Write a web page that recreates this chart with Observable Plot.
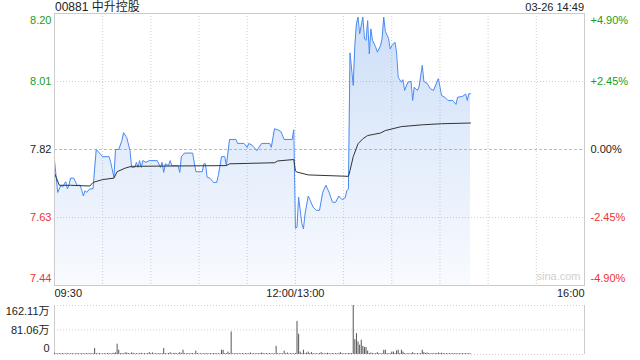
<!DOCTYPE html>
<html><head><meta charset="utf-8">
<script src="https://cdn.jsdelivr.net/npm/d3@7"></script>
<script src="https://cdn.jsdelivr.net/npm/@observablehq/plot@0.6"></script>
<style>
body{margin:0;background:#fff;}
#wrap{position:relative;width:640px;height:360px;overflow:hidden;font-family:"Liberation Sans",Arial,"Noto Sans CJK SC",sans-serif;}
#wrap svg{position:absolute;left:0;}
.t{position:absolute;color:#222;white-space:nowrap;}
</style></head><body>
<div id="wrap">
<div class="t" id="title" style="left:55px;top:0;font-size:12px;line-height:15px;"></div>
<div class="t" id="stamp" style="right:56px;top:0;font-size:11px;line-height:15px;"></div>
</div>
<script>
const stockTitle = "00881 中升控股";
const stamp = "03-26 14:49";
const prevClose = 7.82;
const yLevels = [8.20, 8.01, 7.82, 7.63, 7.44];
const yLabels = ["8.20", "8.01", "7.82", "7.63", "7.44"];
const pctLabels = ["+4.90%", "+2.45%", "0.00%", "-2.45%", "-4.90%"];
const levelColors = ["#1a9e1a", "#1a9e1a", "#222222", "#ee3333", "#ee3333"];
const xTickTimes = ["09:30", "12:00", "16:00"];
const xTickLabels = ["09:30", "12:00/13:00", "16:00"];
const volLevels = [162.11, 81.06, 0];
const volLabels = ["162.11万", "81.06万", "0"];

const priceTimes = ["09:30","09:32","09:34","09:35","09:37","09:38","09:39","09:40","09:42","09:44","09:46","09:47","09:48","09:49","09:50","09:52","09:54","09:55","09:56","09:58","10:00","10:04","10:05","10:07","10:08","10:10","10:12","10:13","10:15","10:17","10:18","10:20","10:21","10:22","10:23","10:24","10:25","10:27","10:29","10:34","10:36","10:37","10:38","10:39","10:41","10:42","10:43","10:47","10:48","10:49","10:51","10:56","10:58","11:02","11:03","11:04","11:05","11:07","11:09","11:11","11:12","11:14","11:16","11:17","11:19","11:23","11:24","11:28","11:30","11:31","11:33","11:36","11:39","11:44","11:45","11:47","11:49","11:51","11:53","11:58","11:59",
"13:00","13:01","13:02","13:04","13:05","13:06","13:08","13:09","13:11","13:13","13:15","13:17","13:19","13:21","13:23","13:25","13:27","13:29","13:31","13:32","13:33","13:34","13:36","13:37","13:38","13:39","13:40","13:42","13:43","13:44","13:45","13:46","13:47","13:48","13:50","13:51","13:53","13:54","13:55","13:56","13:58","13:59","14:00","14:02","14:03","14:04","14:06","14:07","14:08","14:10","14:12","14:13","14:14","14:16","14:17","14:19","14:20","14:22","14:24","14:26","14:29","14:30","14:31","14:33","14:35","14:38","14:40","14:41","14:44","14:46","14:47","14:48","14:49"];
const prices = [7.79,7.70,7.72,7.715,7.73,7.71,7.72,7.74,7.74,7.72,7.72,7.705,7.69,7.705,7.70,7.71,7.71,7.767,7.82,7.81,7.80,7.80,7.784,7.742,7.82,7.82,7.845,7.867,7.853,7.817,7.77,7.77,7.784,7.77,7.789,7.77,7.789,7.784,7.789,7.789,7.77,7.784,7.756,7.78,7.775,7.789,7.775,7.775,7.756,7.80,7.81,7.81,7.758,7.758,7.78,7.78,7.743,7.739,7.728,7.728,7.747,7.80,7.80,7.775,7.848,7.848,7.837,7.837,7.826,7.837,7.832,7.817,7.837,7.837,7.826,7.878,7.875,7.87,7.848,7.848,7.875,
7.60,7.603,7.687,7.613,7.598,7.64,7.69,7.68,7.659,7.65,7.65,7.70,7.72,7.70,7.673,7.672,7.69,7.68,7.685,7.705,7.71,8.09,7.999,8.11,8.171,8.19,8.143,8.19,8.129,8.125,8.18,8.087,8.157,8.125,8.106,8.092,8.11,8.13,8.19,8.15,8.13,8.101,8.11,8.12,8.09,8.022,8.008,8.015,7.985,8.008,8.01,7.957,7.994,7.985,7.995,8.055,8.01,8.005,7.99,7.985,8.018,7.995,7.971,7.966,7.957,7.957,7.946,7.966,7.968,7.975,7.957,7.976,7.976];

const avgTimes = ["09:30","09:33","09:40","09:52","09:54","10:00","10:07","10:09","10:14","10:18","11:17","11:19","11:47","11:49","11:59","13:00","13:01","13:08","13:33","13:34","13:36","13:39","13:42","13:45","13:53","13:56","14:06","14:19","14:31","14:49"];
const avgPrices = [7.754,7.72,7.72,7.718,7.728,7.736,7.74,7.758,7.768,7.773,7.775,7.78,7.783,7.788,7.792,7.76,7.757,7.749,7.745,7.761,7.80,7.836,7.85,7.859,7.866,7.873,7.884,7.889,7.892,7.894];

// volume per trading minute from 09:30 (万股)
const volumes = [
3,2,2,3,2,3,2,2,3,2,
2,3,2,2,3,2,2,3,2,2,
3,2,3,2,3,19.7,3,2,3,2,
2,3,2,3,3,2,3,4,5,34,
14,3,3,2,5,5,3,2,5,4,
2,3,2,3,4,2,3,2,3,6,
3,5,2,3,2,3,2,3,19.7,3,
2,3,6,2,3,4,2,3,6,3,
14,3,2,3,2,3,3,2,11,3,
2,3,2,3,2,3,2,3,2,3,
3,2,3,2,14,14,3,3,8,3,
74.5,3,2,3,2,3,2,3,2,3,
2,3,5,2,3,2,3,2,3,5,
3,2,3,2,3,2,3,2,27,3,
2,3,2,11,3,5,2,3,2,3,
3,109.5,67,8,3,14,3,5,8,3,
6,3,2,3,2,3,6,3,2,3,
4,3,2,3,2,3,2,3,6,3,
2,3,2,3,3,3,162.11,49,69,41.6,
30.7,47,27,23,23,11,3,5,3,2,
3,6,3,2,3,14,14,3,2,3,
8,8,3,12,14,3,14,8,3,2,
3,2,3,6,3,2,3,2,3,14,
6,3,5,3,2,3,2,3,3,5,
3,4,3,2,3,2,3,2,3,2,
3,2,3,2,3,2,3,2,3,2];

function toMin(t) {
  const [h, mm] = t.split(":").map(Number);
  const v = h * 60 + mm;
  return v <= 720 ? v - 570 : v - 780 + 150;
}
const priceData = priceTimes.map((t, i) => ({m: toMin(t), p: prices[i]}));
const avgData = avgTimes.map((t, i) => ({m: toMin(t), p: avgPrices[i]}));
const volData = volumes.map((v, i) => ({m: i, v}));
const levelRows = yLevels.map((v, i) => ({v, l: yLabels[i], pct: pctLabels[i], c: levelColors[i]}));
const xTicks = xTickTimes.map((t, i) => ({m: toMin(t), l: xTickLabels[i]}));
const volRows = volLevels.map((v, i) => ({v, l: volLabels[i]}));
const gridMins = d3.range(30, 330, 30);

document.getElementById("title").textContent = stockTitle;
document.getElementById("stamp").textContent = stamp;

const font = "'Liberation Sans', Arial, 'Noto Sans CJK SC', sans-serif";
const gradMark = () => {
  const defs = d3.create("svg:defs");
  const lg = defs.append("linearGradient").attr("id", "pg").attr("x1", 0).attr("y1", 0).attr("x2", 0).attr("y2", 1);
  lg.append("stop").attr("offset", "0%").attr("stop-color", "#5b93e8").attr("stop-opacity", 0.3);
  lg.append("stop").attr("offset", "100%").attr("stop-color", "#5b93e8").attr("stop-opacity", 0.04);
  return defs.node();
};

const labelOpts = (dy) => ({y: "v", text: "l", fill: "c", frameAnchor: "left", textAnchor: "end", dx: -3, dy});
const pctOpts = (dy) => ({y: "v", text: "pct", fill: "c", frameAnchor: "right", textAnchor: "start", dx: 6, dy});

const main = Plot.plot({
  width: 640, height: 304,
  marginLeft: 54, marginRight: 56, marginTop: 13, marginBottom: 19,
  x: {domain: [0, 330], axis: null},
  y: {domain: [7.44, 8.20], axis: null},
  color: {type: "identity"},
  style: {fontFamily: font, fontSize: "11px", background: "transparent", overflow: "visible"},
  marks: [
    gradMark,
    Plot.ruleX(gridMins, {stroke: "#cfcfcf", strokeDasharray: "1,2"}),
    Plot.ruleY(yLevels.filter(v => v !== prevClose), {stroke: "#cfcfcf", strokeDasharray: "1,2"}),
    Plot.ruleY([prevClose], {stroke: "#bdbdbd", strokeDasharray: "3,2"}),
    Plot.areaY(priceData, {x: "m", y1: 7.44, y2: "p", fill: "url(#pg)"}),
    Plot.line(priceData, {x: "m", y: "p", stroke: "#4a8af4", strokeWidth: 1}),
    Plot.line(avgData, {x: "m", y: "p", stroke: "#333", strokeWidth: 1}),
    Plot.frame({stroke: "#cccccc"}),
    Plot.text(levelRows.slice(0, 1), labelOpts(7)),
    Plot.text(levelRows.slice(1, 4), labelOpts(0)),
    Plot.text(levelRows.slice(4), labelOpts(-7)),
    Plot.text(levelRows.slice(0, 1), pctOpts(7)),
    Plot.text(levelRows.slice(1, 4), pctOpts(0)),
    Plot.text(levelRows.slice(4), pctOpts(-7)),
    Plot.text(xTicks.slice(0, 1), {x: "m", text: "l", frameAnchor: "bottom", dy: 11, textAnchor: "start", fill: "#222"}),
    Plot.text(xTicks.slice(1, 2), {x: "m", text: "l", frameAnchor: "bottom", dy: 11, textAnchor: "middle", fill: "#222"}),
    Plot.text(xTicks.slice(2), {x: "m", text: "l", frameAnchor: "bottom", dy: 11, textAnchor: "end", fill: "#222"}),
    Plot.text(["sina.com"], {text: d => d, frameAnchor: "bottom-right", dx: -4, dy: -6, textAnchor: "end", fill: "#d0d0d0"})
  ]
});
main.style.top = "0px";
document.getElementById("wrap").appendChild(main);

const vol = Plot.plot({
  width: 640, height: 56,
  marginLeft: 54, marginRight: 56, marginTop: 1, marginBottom: 6,
  x: {domain: [0, 330], axis: null},
  y: {domain: [0, 162.11], axis: null},
  style: {fontFamily: font, fontSize: "11px", background: "transparent", overflow: "visible"},
  marks: [
    Plot.ruleY(volLevels, {stroke: "#cfcfcf", strokeDasharray: "1,2"}),
    Plot.ruleX([0, 330], {stroke: "#cccccc"}),
    Plot.ruleX(volData, {x: "m", y1: 0, y2: "v", stroke: "#555"}),
    Plot.text(volRows.slice(0, 1), {y: "v", text: "l", frameAnchor: "left", textAnchor: "end", dx: -5, dy: 6, fill: "#222"}),
    Plot.text(volRows.slice(1, 2), {y: "v", text: "l", frameAnchor: "left", textAnchor: "end", dx: -5, dy: 0, fill: "#222"}),
    Plot.text(volRows.slice(2), {y: "v", text: "l", frameAnchor: "left", textAnchor: "end", dx: -5, dy: -6, fill: "#222"})
  ]
});
vol.style.top = "304px";
document.getElementById("wrap").appendChild(vol);
</script>
</body></html>
